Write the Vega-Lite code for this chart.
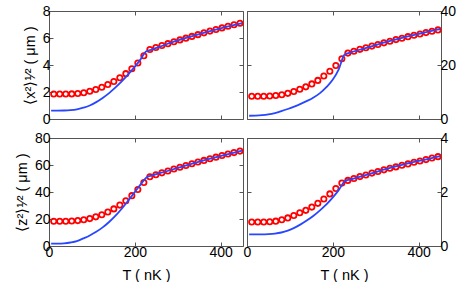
{
"$schema":"https://vega.github.io/schema/vega-lite/v6.json",
"padding":{"left":13,"right":0,"top":3,"bottom":0},
"config":{
 "font":"Liberation Sans",
 "view":{"stroke":"#555","strokeWidth":1},
 "axis":{"grid":false,"domain":false,"tickSize":-4,"tickColor":"#555","tickWidth":1,"labelFontSize":14,"labelColor":"#000","titleFontSize":14.5,"titleFontWeight":"normal","titleColor":"#000","labelFlush":false,"labelPadding":3,"labelOverlap":false,"titlePadding":5}
},
"datasets":{
"pts":[
{"p":"a","T":11,"v":1.85},{"p":"a","T":25,"v":1.85},{"p":"a","T":39,"v":1.85},{"p":"a","T":53,"v":1.86},{"p":"a","T":67,"v":1.89},{"p":"a","T":81,"v":1.95},{"p":"a","T":95,"v":2.05},{"p":"a","T":109,"v":2.18},{"p":"a","T":123,"v":2.35},{"p":"a","T":137,"v":2.55},{"p":"a","T":151,"v":2.78},{"p":"a","T":165,"v":3.05},{"p":"a","T":179,"v":3.36},{"p":"a","T":193,"v":3.72},{"p":"a","T":207,"v":4.15},{"p":"a","T":221,"v":4.68},{"p":"a","T":235,"v":5.15},{"p":"a","T":249,"v":5.3},{"p":"a","T":263,"v":5.44},{"p":"a","T":277,"v":5.58},{"p":"a","T":291,"v":5.72},{"p":"a","T":305,"v":5.86},{"p":"a","T":319,"v":5.99},{"p":"a","T":333,"v":6.12},{"p":"a","T":347,"v":6.25},{"p":"a","T":361,"v":6.38},{"p":"a","T":375,"v":6.51},{"p":"a","T":389,"v":6.63},{"p":"a","T":403,"v":6.75},{"p":"a","T":417,"v":6.87},{"p":"a","T":431,"v":6.98},{"p":"a","T":445,"v":7.09},
{"p":"b","T":11,"v":8.4},{"p":"b","T":25,"v":8.4},{"p":"b","T":39,"v":8.4},{"p":"b","T":53,"v":8.5},{"p":"b","T":67,"v":8.7},{"p":"b","T":81,"v":9.0},{"p":"b","T":95,"v":9.5},{"p":"b","T":109,"v":10.2},{"p":"b","T":123,"v":11.0},{"p":"b","T":137,"v":11.9},{"p":"b","T":151,"v":13.0},{"p":"b","T":165,"v":14.3},{"p":"b","T":179,"v":15.9},{"p":"b","T":193,"v":17.7},{"p":"b","T":207,"v":19.8},{"p":"b","T":221,"v":22.3},{"p":"b","T":235,"v":24.4},{"p":"b","T":249,"v":25.1},{"p":"b","T":263,"v":25.8},{"p":"b","T":277,"v":26.4},{"p":"b","T":291,"v":27.0},{"p":"b","T":305,"v":27.6},{"p":"b","T":319,"v":28.2},{"p":"b","T":333,"v":28.8},{"p":"b","T":347,"v":29.4},{"p":"b","T":361,"v":29.9},{"p":"b","T":375,"v":30.5},{"p":"b","T":389,"v":31.0},{"p":"b","T":403,"v":31.5},{"p":"b","T":417,"v":32.0},{"p":"b","T":431,"v":32.5},{"p":"b","T":445,"v":33.0},
{"p":"c","T":11,"v":18.3},{"p":"c","T":25,"v":18.3},{"p":"c","T":39,"v":18.3},{"p":"c","T":53,"v":18.5},{"p":"c","T":67,"v":18.8},{"p":"c","T":81,"v":19.4},{"p":"c","T":95,"v":20.3},{"p":"c","T":109,"v":21.6},{"p":"c","T":123,"v":23.2},{"p":"c","T":137,"v":25.2},{"p":"c","T":151,"v":27.5},{"p":"c","T":165,"v":30.3},{"p":"c","T":179,"v":33.5},{"p":"c","T":193,"v":37.3},{"p":"c","T":207,"v":41.8},{"p":"c","T":221,"v":47.0},{"p":"c","T":235,"v":51.3},{"p":"c","T":249,"v":52.8},{"p":"c","T":263,"v":54.2},{"p":"c","T":277,"v":55.6},{"p":"c","T":291,"v":57.0},{"p":"c","T":305,"v":58.3},{"p":"c","T":319,"v":59.6},{"p":"c","T":333,"v":60.9},{"p":"c","T":347,"v":62.2},{"p":"c","T":361,"v":63.4},{"p":"c","T":375,"v":64.6},{"p":"c","T":389,"v":65.8},{"p":"c","T":403,"v":67.0},{"p":"c","T":417,"v":68.1},{"p":"c","T":431,"v":69.2},{"p":"c","T":445,"v":70.3},
{"p":"d","T":11,"v":0.89},{"p":"d","T":25,"v":0.89},{"p":"d","T":39,"v":0.89},{"p":"d","T":53,"v":0.9},{"p":"d","T":67,"v":0.92},{"p":"d","T":81,"v":0.97},{"p":"d","T":95,"v":1.04},{"p":"d","T":109,"v":1.13},{"p":"d","T":123,"v":1.23},{"p":"d","T":137,"v":1.32},{"p":"d","T":151,"v":1.44},{"p":"d","T":165,"v":1.58},{"p":"d","T":179,"v":1.74},{"p":"d","T":193,"v":1.93},{"p":"d","T":207,"v":2.13},{"p":"d","T":221,"v":2.33},{"p":"d","T":235,"v":2.43},{"p":"d","T":249,"v":2.5},{"p":"d","T":263,"v":2.57},{"p":"d","T":277,"v":2.63},{"p":"d","T":291,"v":2.7},{"p":"d","T":305,"v":2.76},{"p":"d","T":319,"v":2.82},{"p":"d","T":333,"v":2.88},{"p":"d","T":347,"v":2.93},{"p":"d","T":361,"v":2.99},{"p":"d","T":375,"v":3.04},{"p":"d","T":389,"v":3.1},{"p":"d","T":403,"v":3.15},{"p":"d","T":417,"v":3.2},{"p":"d","T":431,"v":3.26},{"p":"d","T":445,"v":3.31}
],
"ln":[
{"p":"a","T":5,"v":0.62},{"p":"a","T":20,"v":0.62},{"p":"a","T":35,"v":0.63},{"p":"a","T":50,"v":0.66},{"p":"a","T":65,"v":0.72},{"p":"a","T":80,"v":0.84},{"p":"a","T":95,"v":1.0},{"p":"a","T":110,"v":1.25},{"p":"a","T":125,"v":1.56},{"p":"a","T":140,"v":1.92},{"p":"a","T":155,"v":2.34},{"p":"a","T":170,"v":2.8},{"p":"a","T":185,"v":3.32},{"p":"a","T":200,"v":3.88},{"p":"a","T":213,"v":4.4},{"p":"a","T":226,"v":5.0},{"p":"a","T":240,"v":5.14},{"p":"a","T":270,"v":5.5},{"p":"a","T":300,"v":5.82},{"p":"a","T":340,"v":6.2},{"p":"a","T":380,"v":6.55},{"p":"a","T":420,"v":6.88},{"p":"a","T":450,"v":7.1},
{"p":"b","T":5,"v":1.2},{"p":"b","T":20,"v":1.25},{"p":"b","T":35,"v":1.4},{"p":"b","T":50,"v":1.7},{"p":"b","T":65,"v":2.2},{"p":"b","T":80,"v":2.9},{"p":"b","T":95,"v":3.7},{"p":"b","T":110,"v":4.6},{"p":"b","T":125,"v":5.6},{"p":"b","T":140,"v":6.7},{"p":"b","T":155,"v":8.0},{"p":"b","T":170,"v":9.6},{"p":"b","T":185,"v":11.8},{"p":"b","T":200,"v":14.6},{"p":"b","T":214,"v":18.5},{"p":"b","T":227,"v":23.8},{"p":"b","T":240,"v":24.6},{"p":"b","T":270,"v":26.0},{"p":"b","T":300,"v":27.4},{"p":"b","T":340,"v":29.2},{"p":"b","T":380,"v":30.8},{"p":"b","T":420,"v":32.3},{"p":"b","T":450,"v":33.3},
{"p":"c","T":5,"v":1.7},{"p":"c","T":20,"v":1.75},{"p":"c","T":35,"v":2.0},{"p":"c","T":50,"v":2.6},{"p":"c","T":65,"v":3.6},{"p":"c","T":80,"v":5.6},{"p":"c","T":95,"v":7.8},{"p":"c","T":110,"v":10.5},{"p":"c","T":125,"v":13.8},{"p":"c","T":140,"v":17.8},{"p":"c","T":155,"v":22.5},{"p":"c","T":170,"v":27.8},{"p":"c","T":185,"v":33.8},{"p":"c","T":200,"v":40.0},{"p":"c","T":214,"v":45.8},{"p":"c","T":227,"v":50.8},{"p":"c","T":240,"v":52.2},{"p":"c","T":270,"v":55.0},{"p":"c","T":300,"v":57.8},{"p":"c","T":340,"v":61.6},{"p":"c","T":380,"v":65.1},{"p":"c","T":420,"v":68.3},{"p":"c","T":450,"v":70.6},
{"p":"d","T":5,"v":0.43},{"p":"d","T":20,"v":0.43},{"p":"d","T":35,"v":0.43},{"p":"d","T":50,"v":0.44},{"p":"d","T":65,"v":0.46},{"p":"d","T":80,"v":0.5},{"p":"d","T":95,"v":0.57},{"p":"d","T":110,"v":0.67},{"p":"d","T":125,"v":0.8},{"p":"d","T":140,"v":0.95},{"p":"d","T":155,"v":1.12},{"p":"d","T":170,"v":1.32},{"p":"d","T":185,"v":1.54},{"p":"d","T":200,"v":1.8},{"p":"d","T":214,"v":2.08},{"p":"d","T":228,"v":2.4},{"p":"d","T":240,"v":2.46},{"p":"d","T":270,"v":2.6},{"p":"d","T":300,"v":2.74},{"p":"d","T":340,"v":2.92},{"p":"d","T":380,"v":3.08},{"p":"d","T":420,"v":3.22},{"p":"d","T":450,"v":3.33}
]
},
"columns":2,
"spacing":{"row":19,"column":4},
"bounds":"flush",
"concat":[
 {"width":194,"height":108,
  "layer":[
   {"data":{"name":"pts"},"transform":[{"filter":"datum.p==='a'"}],
    "mark":{"type":"point","shape":"circle","filled":false,"color":"#ff0000","strokeWidth":1.8,"size":28,"opacity":1},
    "encoding":{
     "x":{"field":"T","type":"quantitative","scale":{"domain":[0,452],"nice":false,"zero":false},"axis":{"orient":"bottom","values":[0,200,400],"labels":false,"title":null}},
     "y":{"field":"v","type":"quantitative","scale":{"domain":[0,8],"nice":false},"axis":{"orient":"left","values":[0,2,4,6,8],"title":"⟨x²⟩¹⁄² ( μm )"}}}},
   {"data":{"name":"ln"},"transform":[{"filter":"datum.p==='a'"}],
    "mark":{"type":"line","color":"#2846ff","strokeWidth":1.8,"interpolate":"monotone"},
    "encoding":{
     "x":{"field":"T","type":"quantitative","axis":{"orient":"top","values":[0,200,400],"labels":false,"title":null}},
     "y":{"field":"v","type":"quantitative","axis":{"orient":"right","values":[0,2,4,6,8],"labels":false,"title":null}}}}
  ],
  "resolve":{"axis":{"x":"independent","y":"independent"}}},
 {"width":194,"height":108,
  "layer":[
   {"data":{"name":"pts"},"transform":[{"filter":"datum.p==='b'"}],
    "mark":{"type":"point","shape":"circle","filled":false,"color":"#ff0000","strokeWidth":1.8,"size":28,"opacity":1},
    "encoding":{
     "x":{"field":"T","type":"quantitative","scale":{"domain":[0,452],"nice":false,"zero":false},"axis":{"orient":"bottom","values":[0,200,400],"labels":false,"title":null}},
     "y":{"field":"v","type":"quantitative","scale":{"domain":[0,40],"nice":false},"axis":{"orient":"right","values":[0,20,40],"title":null}}}},
   {"data":{"name":"ln"},"transform":[{"filter":"datum.p==='b'"}],
    "mark":{"type":"line","color":"#2846ff","strokeWidth":1.8,"interpolate":"monotone"},
    "encoding":{
     "x":{"field":"T","type":"quantitative","axis":{"orient":"top","values":[0,200,400],"labels":false,"title":null}},
     "y":{"field":"v","type":"quantitative","axis":{"orient":"left","values":[0,20,40],"labels":false,"title":null}}}}
  ],
  "resolve":{"axis":{"x":"independent","y":"independent"}}},
 {"width":194,"height":108,
  "layer":[
   {"data":{"name":"pts"},"transform":[{"filter":"datum.p==='c'"}],
    "mark":{"type":"point","shape":"circle","filled":false,"color":"#ff0000","strokeWidth":1.8,"size":28,"opacity":1},
    "encoding":{
     "x":{"field":"T","type":"quantitative","scale":{"domain":[0,452],"nice":false,"zero":false},"axis":{"orient":"bottom","values":[0,200,400],"title":"T ( nK )","titlePadding":9}},
     "y":{"field":"v","type":"quantitative","scale":{"domain":[0,80],"nice":false},"axis":{"orient":"left","values":[0,20,40,60,80],"title":"⟨z²⟩¹⁄² ( μm )"}}}},
   {"data":{"name":"ln"},"transform":[{"filter":"datum.p==='c'"}],
    "mark":{"type":"line","color":"#2846ff","strokeWidth":1.8,"interpolate":"monotone"},
    "encoding":{
     "x":{"field":"T","type":"quantitative","axis":{"orient":"top","values":[0,200,400],"labels":false,"title":null}},
     "y":{"field":"v","type":"quantitative","axis":{"orient":"right","values":[0,20,40,60,80],"labels":false,"title":null}}}}
  ],
  "resolve":{"axis":{"x":"independent","y":"independent"}}},
 {"width":194,"height":108,
  "layer":[
   {"data":{"name":"pts"},"transform":[{"filter":"datum.p==='d'"}],
    "mark":{"type":"point","shape":"circle","filled":false,"color":"#ff0000","strokeWidth":1.8,"size":28,"opacity":1},
    "encoding":{
     "x":{"field":"T","type":"quantitative","scale":{"domain":[0,452],"nice":false,"zero":false},"axis":{"orient":"bottom","values":[0,200,400],"title":"T ( nK )","titlePadding":9}},
     "y":{"field":"v","type":"quantitative","scale":{"domain":[0,4],"nice":false},"axis":{"orient":"right","values":[0,2,4],"title":null}}}},
   {"data":{"name":"ln"},"transform":[{"filter":"datum.p==='d'"}],
    "mark":{"type":"line","color":"#2846ff","strokeWidth":1.8,"interpolate":"monotone"},
    "encoding":{
     "x":{"field":"T","type":"quantitative","axis":{"orient":"top","values":[0,200,400],"labels":false,"title":null}},
     "y":{"field":"v","type":"quantitative","axis":{"orient":"left","values":[0,2,4],"labels":false,"title":null}}}}
  ],
  "resolve":{"axis":{"x":"independent","y":"independent"}}}
]
}
